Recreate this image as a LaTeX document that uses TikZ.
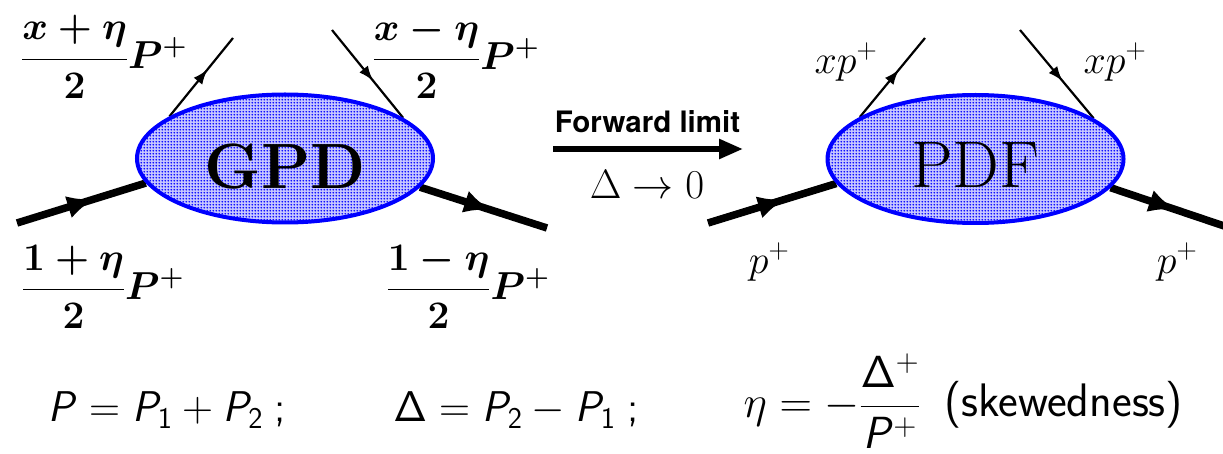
\RequirePackage{fix-cm}
\documentclass[tikz,border=0pt]{standalone}
\usepackage{amsmath}
\usepackage[no-math]{fontspec}
\newfontfamily\helv{TeX Gyre Heros}
\usetikzlibrary{patterns,decorations.markings,arrows.meta,shapes.geometric}
\DeclareMathAlphabet{\mathsfit}{OT1}{cmss}{m}{sl}
\pgfdeclarelayer{bg}
\pgfsetlayers{bg,main}
\pgfdeclarepatternformonly{bluedots}{\pgfpointorigin}{\pgfpoint{3.2pt}{3.2pt}}{\pgfpoint{3.2pt}{3.2pt}}{%
  \pgfpathcircle{\pgfpoint{1.6pt}{1.6pt}}{1.1pt}\pgfusepath{fill}}
\tikzset{
  blob/.style={ellipse, draw=blue, line width=4pt, preaction={fill=blue!22},
    pattern=bluedots, pattern color=blue,
    minimum width=296pt, minimum height=128pt, inner sep=0pt},
  quark/.style={line width=2.2pt, postaction={decorate},
    decoration={markings, mark=at position #1 with {\arrow{Latex[length=15pt,width=11pt]}}}},
  hadron/.style={line width=7.5pt, postaction={decorate},
    decoration={markings, mark=at position #1 with {\arrow{Latex[length=27pt,width=23pt]}}}},
  lbl/.style={inner sep=0pt, font=\fontsize{39}{45}\selectfont\boldmath},
  plbl/.style={inner sep=0pt, font=\fontsize{40}{46}\selectfont},
  formula/.style={inner sep=0pt, font=\fontsize{43}{50}\selectfont\sffamily},
}
\begin{document}
\begin{tikzpicture}[x=1pt,y=-1pt]
\useasboundingbox (0,0) rectangle (1223,454);
% blobs
\node[blob] (gpd) at (285,158.5) {};
\node[inner sep=0pt, font=\fontsize{64}{72}\selectfont\bfseries] (gpdt) at (285,167) {GPD};
\node[blob] (pdf) at (975.5,159) {};
\node[inner sep=0pt, font=\fontsize{66}{74}\selectfont] (pdft) at (975,165) {PDF};
% free ends
\coordinate (g1) at (233,38);
\coordinate (g2) at (332,30);
\coordinate (g3) at (17,223);
\coordinate (g4) at (547,228);
\coordinate (p1) at (925,38);
\coordinate (p2) at (1020,30);
\coordinate (p3) at (708,223);
\coordinate (p4) at (1236,230);
\begin{pgfonlayer}{bg}
\draw[quark=0.6] (gpd.160) -- (g1);
\draw[quark=0.58] (g2) -- (gpd.19);
\draw[hadron=0.6] (g3) -- (gpd.190);
\draw[hadron=0.56] (gpd.348) -- (g4);
\draw[quark=0.6] (pdf.160) -- (p1);
\draw[quark=0.58] (p2) -- (pdf.19);
\draw[hadron=0.6] (p3) -- (pdf.190);
\draw[hadron=0.52] (pdf.348) -- (p4);
\end{pgfonlayer}
% labels
\node[lbl] (l1) at (104,57) {$\dfrac{x+\eta}{2}P^{+}$};
\node[lbl] (l2) at (456,57) {$\dfrac{x-\eta}{2}P^{+}$};
\node[lbl] (l3) at (103,287) {$\dfrac{1+\eta}{2}P^{+}$};
\node[lbl] (l4) at (468,287) {$\dfrac{1-\eta}{2}P^{+}$};
\node[plbl] (x1) at (846,62) {$xp^{+}$};
\node[plbl] (x2) at (1115,62) {$xp^{+}$};
\node[plbl] (q1) at (769,262) {$p^{+}$};
\node[plbl] (q2) at (1177,262) {$p^{+}$};
% forward limit arrow
\coordinate (fa) at (553,149);
\coordinate (fb) at (743,149);
\draw[line width=5.5pt, -{Triangle[length=24pt,width=19pt]}] (fa) -- (fb);
\node[inner sep=0pt, font=\fontsize{29.5}{34}\selectfont\helv\bfseries] (fl) at (647.5,122) {Forward limit};
\node[inner sep=0pt, font=\fontsize{41}{46}\selectfont] (d0) at (647,184) {$\Delta\rightarrow 0$};
% bottom formulas
\node[formula] (f1) at (167,410) {$\mathsfit{P}=\mathsfit{P}_{\mathsf{1}}+\mathsfit{P}_{\mathsf{2}}\;$;};
\node[formula] (f2) at (516,410) {$\mathsf{\Delta}=\mathsfit{P}_{\mathsf{2}}-\mathsfit{P}_{\mathsf{1}}\;$;};
\node[inner sep=0pt, font=\fontsize{45}{52}\selectfont\sffamily] (f3) at (832,401) {$\eta=-\dfrac{\mathsf{\Delta}^{+}}{\mathsfit{P}^{+}}$};
\node[inner sep=0pt, anchor=west, font=\fontsize{47}{54}\selectfont\sffamily] (f4) at (944,405) {(skewedness)};
\end{tikzpicture}
\end{document}
